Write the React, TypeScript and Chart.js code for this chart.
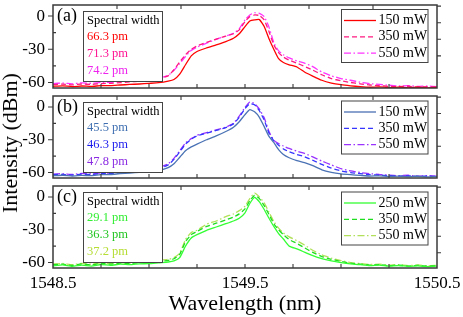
import React, { useEffect, useRef } from "react";
import { Chart, registerables } from "chart.js";

Chart.register(...registerables);

// ---------- data ----------
const wavelength = [
  1548.5, 1548.55, 1548.6, 1548.65, 1548.7, 1548.75, 1548.8, 1548.85, 1548.9, 1548.95,
  1549.0, 1549.05, 1549.1, 1549.13, 1549.16, 1549.19, 1549.22, 1549.25, 1549.3, 1549.35,
  1549.4, 1549.44, 1549.47, 1549.5, 1549.525, 1549.55, 1549.575, 1549.6, 1549.625, 1549.65,
  1549.675, 1549.7, 1549.73, 1549.77, 1549.81, 1549.85, 1549.9, 1549.95, 1550.0, 1550.05,
  1550.1, 1550.15, 1550.2, 1550.25, 1550.3, 1550.35, 1550.4, 1550.45, 1550.5,
];

const a150 = [
  -63.5, -63.0, -63.8, -63.2, -63.6, -62.8, -62.9, -62.3, -61.8, -61.4,
  -60.8, -60.2, -58.8, -57.3, -52.5, -44.0, -36.0, -32.0, -28.8, -26.0,
  -23.0, -20.0, -16.0, -9.5, -4.5, -3.5, -3.2, -9.5, -20.5, -30.0,
  -38.5, -42.0, -44.0, -46.0, -50.5, -54.0, -58.0, -60.5, -62.0, -63.0,
  -63.8, -64.3, -64.0, -64.6, -64.2, -64.8, -64.3, -64.8, -64.4,
];
const a350 = [
  -62.0, -61.5, -62.2, -61.4, -61.8, -61.0, -60.8, -60.2, -59.5, -58.8,
  -58.0, -56.8, -54.0, -48.5, -41.5, -35.0, -30.0, -27.0, -23.8, -20.8,
  -18.2, -16.0, -12.5, -5.0, -0.5, 1.0, 0.5, -3.5, -14.0, -26.0,
  -33.0, -37.0, -39.8, -42.5, -45.5, -48.5, -53.0, -56.5, -58.5, -60.0,
  -61.2, -62.3, -62.8, -63.5, -63.8, -63.4, -64.2, -63.8, -64.3,
];
const a550 = [
  -61.0, -60.5, -61.2, -60.3, -60.8, -59.8, -60.0, -59.0, -58.5, -57.8,
  -57.0, -56.0, -53.5, -49.0, -43.0, -36.5, -31.0, -28.0, -24.5, -21.0,
  -18.0, -15.5, -11.5, -3.5, 1.0, 3.0, 2.5, -0.5, -10.0, -24.0,
  -31.5, -35.0, -37.8, -40.5, -42.5, -45.5, -50.5, -54.0, -56.5, -58.0,
  -59.8, -61.0, -61.8, -62.5, -63.2, -62.8, -63.6, -63.2, -63.8,
];

const b150 = [
  -63.0, -62.5, -63.2, -62.6, -62.8, -62.0, -61.8, -61.0, -60.5, -59.8,
  -59.0, -58.0, -55.5, -52.0, -46.0, -40.0, -36.5, -34.0, -30.0, -26.5,
  -22.5, -18.5, -13.5, -7.0, -2.5, -4.5, -9.5, -18.0, -27.0, -32.5,
  -39.0, -43.5, -46.5, -49.0, -51.0, -53.5, -57.5, -59.8, -61.2, -62.0,
  -62.6, -63.2, -63.0, -63.6, -63.3, -63.8, -63.4, -64.0, -63.7,
];
const b350 = [
  -62.0, -61.6, -62.3, -61.5, -61.8, -61.0, -61.0, -60.2, -59.5, -58.8,
  -57.8, -56.5, -53.0, -48.0, -41.0, -34.0, -29.5, -26.5, -24.0, -21.5,
  -19.0, -15.5, -9.5, -1.5, 3.0, 2.0, -3.5, -12.0, -24.0, -31.0,
  -35.0, -38.5, -41.0, -43.5, -45.5, -48.5, -52.5, -56.0, -58.5, -60.0,
  -61.0, -62.0, -62.4, -62.9, -63.3, -63.0, -63.6, -63.2, -63.7,
];
const b550 = [
  -61.5, -61.0, -61.8, -60.8, -61.2, -60.3, -60.5, -59.5, -58.8, -58.0,
  -57.0, -55.5, -52.0, -47.0, -40.0, -33.0, -29.0, -26.0, -23.5, -21.0,
  -18.5, -15.0, -8.5, -0.5, 4.5, 3.0, -2.0, -10.0, -22.5, -30.5,
  -33.5, -35.8, -38.0, -40.5, -42.5, -45.5, -49.5, -53.0, -56.5, -58.5,
  -60.0, -61.0, -61.8, -62.3, -62.9, -62.5, -63.2, -62.8, -63.3,
];

const c250 = [
  -63.0, -62.2, -63.5, -62.4, -63.2, -61.8, -62.6, -61.5, -62.0, -61.2,
  -61.0, -60.2, -59.5, -58.5, -55.5, -45.0, -37.5, -34.5, -30.5, -27.5,
  -24.5, -22.0, -19.5, -14.5, -6.0, -0.5, -4.5, -11.5, -19.5, -27.0,
  -33.5, -38.5, -45.0, -47.5, -50.5, -53.5, -56.5, -58.5, -60.0, -61.2,
  -62.0, -62.8, -62.4, -63.3, -62.7, -63.6, -63.0, -63.8, -63.2,
];
const c350 = [
  -62.0, -61.5, -62.6, -61.3, -62.2, -60.8, -61.5, -60.6, -61.0, -60.2,
  -59.8, -59.0, -58.0, -56.5, -52.5, -41.0, -34.5, -31.5, -27.0, -24.0,
  -21.0, -18.5, -15.5, -11.0, -3.5, 1.5, -1.5, -8.0, -16.0, -24.5,
  -30.0, -34.5, -39.0, -42.5, -46.5, -50.5, -54.5, -57.0, -59.0, -60.5,
  -61.5, -62.3, -62.0, -62.9, -62.3, -63.2, -62.6, -63.4, -62.9,
];
const c550 = [
  -61.5, -60.8, -62.0, -60.7, -61.6, -60.2, -61.0, -60.0, -60.4, -59.5,
  -59.0, -58.0, -57.0, -55.5, -51.5, -39.0, -32.5, -30.5, -25.0, -22.0,
  -18.0, -15.5, -12.5, -8.5, -1.5, 3.5, 0.0, -5.5, -14.0, -22.5,
  -28.5, -33.0, -36.5, -40.0, -44.0, -48.5, -53.0, -56.0, -58.2, -60.0,
  -61.0, -61.8, -61.5, -62.5, -61.9, -62.8, -62.2, -63.0, -62.5,
];

const powersAB = ["150 mW", "350 mW", "550 mW"];
const powersC = ["250 mW", "350 mW", "550 mW"];
const widthsA = ["66.3 pm", "71.3 pm", "74.2 pm"];
const widthsB = ["45.5 pm", "46.3 pm", "47.8 pm"];
const widthsC = ["29.1 pm", "36.3 pm", "37.2 pm"];

const yTicks = [0, -30, -60];
const yMinorTicks = [-15, -45];
const yRightTicks = [9, -6, -21, -36, -51];
const xLabelTicks = [1548.5, 1549.5, 1550.5];
const xBottomTicks = [1548.75, 1549.0, 1549.25, 1549.5, 1549.75, 1550.0, 1550.25];
const xTopTicks = [1548.8333, 1549.1667, 1549.5, 1549.8333, 1550.1667];

// ---------- styling ----------
const SERIF = '"Liberation Serif", "Times New Roman", serif';
const AXIS = "#3a3a3a";
const DASHES: number[][] = [[], [5, 3], [7, 2.5, 1.5, 2.5]];

type PanelCfg = {
  tag: string;
  values: number[][];
  colors: string[];
  textColors: string[];
  powers: string[];
  widths: string[];
  top: number;
  height: number;
  padTop: number;
  padBottom: number;
  showX: boolean;
  legendDy: number;
};

const panels: PanelCfg[] = [
  {
    tag: "(a)", values: [a150, a350, a550],
    colors: ["#ff0000", "#ff1a80", "#ff33ff"],
    textColors: ["#ff0000", "#ff1493", "#ee22ee"],
    powers: powersAB, widths: widthsA,
    top: 0, height: 95, padTop: 5, padBottom: 7, showX: false, legendDy: 0,
  },
  {
    tag: "(b)", values: [b150, b350, b550],
    colors: ["#4a72b4", "#3535ff", "#9a33ff"],
    textColors: ["#3f6fb0", "#1a1aee", "#8a2be2"],
    powers: powersAB, widths: widthsB,
    top: 88, height: 98, padTop: 8, padBottom: 8, showX: false, legendDy: 0.5,
  },
  {
    tag: "(c)", values: [c250, c350, c550],
    colors: ["#33ff33", "#1fdd1f", "#b2e05a"],
    textColors: ["#33ee33", "#22c522", "#b5dd33"],
    powers: powersC, widths: widthsC,
    top: 178, height: 139, padTop: 8, padBottom: 0, showX: true, legendDy: 1.5,
  },
];

function makeDecor(cfg: PanelCfg) {
  return {
    id: "decor",
    afterDraw(chart: any) {
      const ctx: CanvasRenderingContext2D = chart.ctx;
      const a = chart.chartArea;
      const xs = chart.scales.x;
      const ys = chart.scales.y;
      ctx.save();
      // ticks
      ctx.strokeStyle = AXIS;
      ctx.lineWidth = 1.1;
      ctx.beginPath();
      for (const v of yTicks) {
        const p = ys.getPixelForValue(v);
        ctx.moveTo(a.left - 5, p);
        ctx.lineTo(a.left, p);
      }
      for (const v of yMinorTicks) {
        const p = ys.getPixelForValue(v);
        ctx.moveTo(a.left, p);
        ctx.lineTo(a.left + 3, p);
      }
      for (const v of yRightTicks) {
        const p = ys.getPixelForValue(v);
        ctx.moveTo(a.right, p);
        ctx.lineTo(a.right + 4, p);
      }
      for (const v of xBottomTicks) {
        const p = xs.getPixelForValue(v);
        ctx.moveTo(p, a.bottom);
        ctx.lineTo(p, a.bottom - 4);
      }
      for (const v of xTopTicks) {
        const p = xs.getPixelForValue(v);
        ctx.moveTo(p, a.top);
        ctx.lineTo(p, a.top + 4);
      }
      ctx.stroke();
      // frame
      ctx.lineWidth = 1.5;
      ctx.strokeRect(a.left, a.top, a.right - a.left, a.bottom - a.top);

      // panel tag
      ctx.fillStyle = "#000";
      ctx.font = `18px ${SERIF}`;
      ctx.textBaseline = "middle";
      ctx.textAlign = "left";
      ctx.fillText(cfg.tag, a.left + 4, a.top + 11);

      // spectral width inset
      const bx = 83.5, by = a.top + 6.5, bw = 79, bh = 70;
      ctx.fillStyle = "#fff";
      ctx.fillRect(bx, by, bw, bh);
      ctx.strokeStyle = "#444";
      ctx.lineWidth = 1;
      ctx.strokeRect(bx, by, bw, bh);
      ctx.font = `12.5px ${SERIF}`;
      ctx.fillStyle = "#000";
      ctx.fillText("Spectral width", 87, a.top + 15.5);
      cfg.widths.forEach((w, i) => {
        ctx.fillStyle = cfg.textColors[i];
        ctx.fillText(w, 87, a.top + 32 + 17 * i);
      });

      // legend
      const lx = 341.5, ly = a.top + 4.5 + cfg.legendDy, lw = 86.5, lh = 53;
      ctx.fillStyle = "#fff";
      ctx.fillRect(lx, ly, lw, lh);
      ctx.strokeStyle = "#444";
      ctx.lineWidth = 1;
      ctx.strokeRect(lx, ly, lw, lh);
      ctx.font = `14px ${SERIF}`;
      cfg.powers.forEach((p, i) => {
        const y = ly + 11 + 16.3 * i;
        ctx.strokeStyle = cfg.colors[i];
        ctx.lineWidth = 1.3;
        ctx.setLineDash(DASHES[i]);
        ctx.beginPath();
        ctx.moveTo(344, y);
        ctx.lineTo(376, y);
        ctx.stroke();
        ctx.setLineDash([]);
        ctx.fillStyle = "#000";
        ctx.fillText(p, 378.5, y);
      });
      ctx.restore();
    },
  };
}

function Panel({ cfg }: { cfg: PanelCfg }) {
  const ref = useRef<HTMLCanvasElement>(null);
  useEffect(() => {
    const canvas = ref.current;
    if (!canvas) return;
    const chart = new Chart(canvas, {
      type: "line",
      data: {
        datasets: cfg.values.map((vals, i) => ({
          label: cfg.powers[i],
          data: wavelength.map((x, j) => ({ x, y: vals[j] })),
          borderColor: cfg.colors[i],
          borderWidth: 1.3,
          borderDash: DASHES[i],
          pointRadius: 0,
          tension: 0.15,
          fill: false,
        })),
      },
      options: {
        animation: false,
        responsive: false,
        devicePixelRatio: 1,
        layout: {
          padding: { left: 0, right: 26, top: cfg.padTop, bottom: cfg.padBottom },
        },
        plugins: { legend: { display: false }, tooltip: { enabled: false } },
        scales: {
          x: {
            type: "linear",
            min: 1548.5,
            max: 1550.5,
            display: cfg.showX,
            grid: { display: false, drawTicks: false },
            border: { display: false },
            afterBuildTicks: (s: any) => {
              s.ticks = xLabelTicks.map((v) => ({ value: v }));
            },
            afterFit: (s: any) => {
              s.height = cfg.showX ? 49 : 0;
              s.paddingLeft = 0;
              s.paddingRight = 0;
            },
            ticks: {
              font: { family: SERIF, size: 17 },
              color: "#000",
              padding: 5,
              maxRotation: 0,
              autoSkip: false,
              callback: (v: any) => Number(v).toFixed(1),
            },
            title: {
              display: cfg.showX,
              text: "Wavelength (nm)",
              font: { family: SERIF, size: 22 },
              color: "#000",
              padding: { top: 0, bottom: 0 },
            },
          },
          y: {
            type: "linear",
            min: -65,
            max: 10,
            grid: { display: false, drawTicks: false },
            border: { display: false },
            afterBuildTicks: (s: any) => {
              s.ticks = yTicks.map((v) => ({ value: v }));
            },
            afterFit: (s: any) => {
              s.width = 53;
              s.paddingTop = 0;
              s.paddingBottom = 0;
            },
            ticks: {
              font: { family: SERIF, size: 17 },
              color: "#000",
              padding: 8,
              callback: (v: any) => String(v),
            },
          },
        },
      } as any,
      plugins: [makeDecor(cfg)],
    });
    return () => chart.destroy();
  }, [cfg]);
  return (
    <canvas
      ref={ref}
      width={463}
      height={cfg.height}
      style={{ position: "absolute", left: 0, top: cfg.top, width: 463, height: cfg.height }}
    />
  );
}

export default function App() {
  return (
    <div
      style={{
        position: "fixed",
        left: 0,
        top: 0,
        width: 463,
        height: 317,
        background: "#fff",
        overflow: "hidden",
      }}
    >
      {panels.map((p) => (
        <Panel key={p.tag} cfg={p} />
      ))}
      <div
        style={{
          position: "absolute",
          left: 10,
          top: 143,
          transform: "translate(-50%, -50%) rotate(-90deg)",
          whiteSpace: "nowrap",
          fontFamily: SERIF,
          fontSize: 22,
          lineHeight: 1,
          color: "#000",
        }}
      >
        Intensity (dBm)
      </div>
    </div>
  );
}
